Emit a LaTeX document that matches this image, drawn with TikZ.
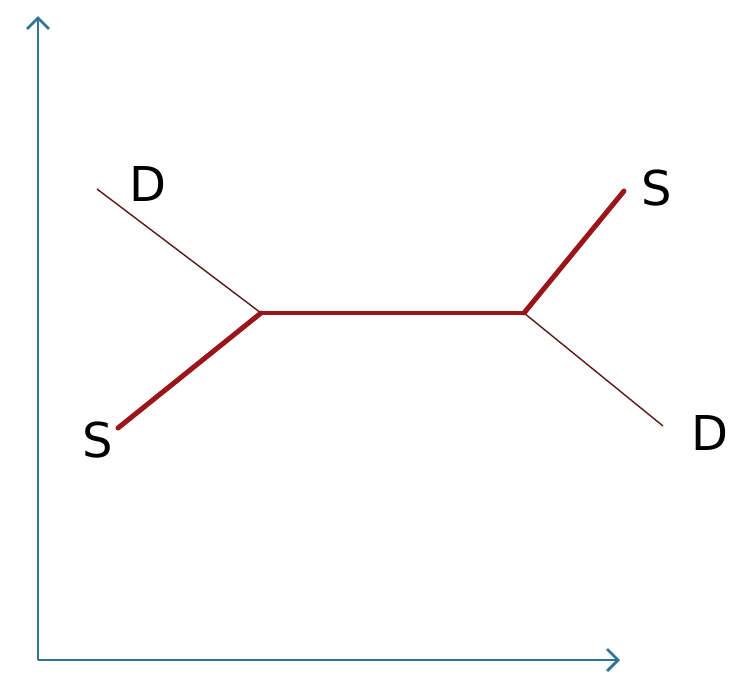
\documentclass[tikz,border=0pt]{standalone}
\usepackage{fontspec}
\setmainfont{DejaVu Sans}
\usetikzlibrary{arrows.meta}
\definecolor{axisblue}{HTML}{2F7396}
\definecolor{branchred}{HTML}{9A1519}
\definecolor{thinred}{HTML}{5A1A1A}
\tikzset{
  axis/.style={axisblue, line width=2.2pt, -{Straight Barb[length=11pt, width=22pt, line width=2.8pt]}},
  thick branch/.style={branchred, line width=5pt, line cap=round},
  mid branch/.style={branchred, line width=3.5pt},
  thin branch/.style={thinred, line width=1.4pt},
  label/.style={font=\fontsize{48}{48}\selectfont, inner sep=0pt}
}
\begin{document}
\begin{tikzpicture}[x=1pt, y=-1pt]
  % Canvas
  \useasboundingbox (0,0) rectangle (732,675);

  % Axes
  \coordinate (O) at (38,660);
  \coordinate (ytop) at (38,16);
  \coordinate (xend) at (620,660);
  \draw[axis] (O) -- (ytop);
  \draw[axis] (O) -- (xend);

  % Junctions and branch ends
  \coordinate (jl) at (261,313);
  \coordinate (jr) at (524,313);
  \coordinate (dl) at (97,189);
  \coordinate (sl) at (118,428);
  \coordinate (sr) at (624,191);
  \coordinate (dr) at (663,426);

  % Branches
  \draw[mid branch] (jl) -- (jr);
  \draw[thin branch] (dl) -- (jl);
  \draw[thin branch] (jr) -- (dr);
  \draw[thick branch] (sl) -- (jl);
  \draw[thick branch] (jr) -- (sr);

  % Labels
  \node[label] (Dl) at (148,184) {D};
  \node[label] (Sl) at (98,440) {S};
  \node[label] (Sr) at (657,188) {S};
  \node[label] (Dr) at (710,433) {D};
\end{tikzpicture}
\end{document}
